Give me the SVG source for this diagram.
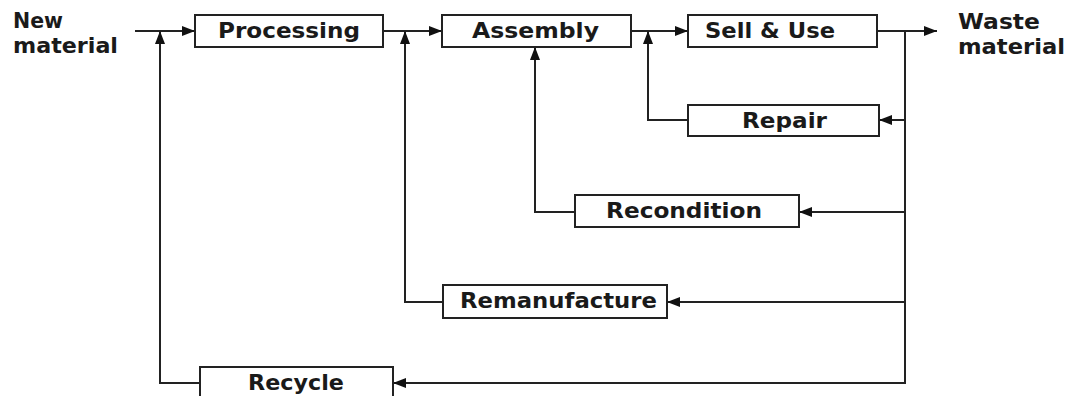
<svg xmlns="http://www.w3.org/2000/svg" width="1069" height="396" viewBox="0 0 1069 396">
  <style>
    .box { fill: #ffffff; stroke: #222222; stroke-width: 2; }
    .lbl { font-family: "DejaVu Sans", "Liberation Sans", sans-serif; font-weight: bold; font-size: 20.5px; fill: #1a1a1a; }
    .wire { fill: none; stroke: #222222; stroke-width: 2; }
  </style>
  <defs>
    <marker id="arrow" viewBox="0 0 13 10" refX="13" refY="5" markerWidth="13" markerHeight="10" markerUnits="userSpaceOnUse" orient="auto">
      <path d="M0,0 L13,5 L0,10 Z" fill="#111111"/>
    </marker>
  </defs>

  <rect width="1069" height="396" fill="#ffffff"/>

  <!-- side labels -->
  <g id="new-material">
    <text class="lbl" x="13" y="28" textLength="50" lengthAdjust="spacingAndGlyphs">New</text>
    <text class="lbl" x="13" y="53" textLength="105" lengthAdjust="spacingAndGlyphs">material</text>
  </g>
  <g id="waste-material">
    <text class="lbl" x="958" y="29" textLength="82" lengthAdjust="spacingAndGlyphs">Waste</text>
    <text class="lbl" x="958" y="54" textLength="107" lengthAdjust="spacingAndGlyphs">material</text>
  </g>

  <!-- connectors -->
  <g id="connectors">
    <line class="wire" x1="135" y1="31" x2="195" y2="31" marker-end="url(#arrow)"/>
    <line class="wire" x1="383" y1="31" x2="442" y2="31" marker-end="url(#arrow)"/>
    <line class="wire" x1="631" y1="31" x2="688" y2="31" marker-end="url(#arrow)"/>
    <line class="wire" x1="877" y1="31" x2="937" y2="31" marker-end="url(#arrow)"/>
    <!-- waste trunk -->
    <line class="wire" x1="905" y1="31" x2="905" y2="384"/>
    <line class="wire" x1="905" y1="120" x2="879" y2="120" marker-end="url(#arrow)"/>
    <line class="wire" x1="905" y1="212" x2="799" y2="212" marker-end="url(#arrow)"/>
    <line class="wire" x1="905" y1="302" x2="667" y2="302" marker-end="url(#arrow)"/>
    <line class="wire" x1="906" y1="383" x2="393" y2="383" marker-end="url(#arrow)"/>
    <!-- return loops -->
    <polyline class="wire" points="688,120 648,120 648,31" marker-end="url(#arrow)"/>
    <polyline class="wire" points="575,212 535,212 535,47" marker-end="url(#arrow)"/>
    <polyline class="wire" points="443,302 405,302 405,31" marker-end="url(#arrow)"/>
    <polyline class="wire" points="200,383 160,383 160,31" marker-end="url(#arrow)"/>
  </g>

  <!-- process boxes -->
  <g id="processing">
    <rect class="box" x="195" y="15" width="188" height="32"/>
    <text class="lbl" x="218" y="38" textLength="142" lengthAdjust="spacingAndGlyphs">Processing</text>
  </g>
  <g id="assembly">
    <rect class="box" x="442" y="15" width="189" height="32"/>
    <text class="lbl" x="472" y="38" textLength="127" lengthAdjust="spacingAndGlyphs">Assembly</text>
  </g>
  <g id="sell-use">
    <rect class="box" x="688" y="15" width="189" height="32"/>
    <text class="lbl" x="705" y="38" textLength="130" lengthAdjust="spacingAndGlyphs">Sell &amp; Use</text>
  </g>
  <g id="repair">
    <rect class="box" x="688" y="105" width="191" height="31"/>
    <text class="lbl" x="742" y="128" textLength="85" lengthAdjust="spacingAndGlyphs">Repair</text>
  </g>
  <g id="recondition">
    <rect class="box" x="575" y="195" width="224" height="32"/>
    <text class="lbl" x="606" y="218" textLength="156" lengthAdjust="spacingAndGlyphs">Recondition</text>
  </g>
  <g id="remanufacture">
    <rect class="box" x="443" y="285" width="224" height="33"/>
    <text class="lbl" x="460" y="308" textLength="197" lengthAdjust="spacingAndGlyphs">Remanufacture</text>
  </g>
  <g id="recycle">
    <rect class="box" x="200" y="367" width="193" height="34"/>
    <text class="lbl" x="248" y="390" textLength="96" lengthAdjust="spacingAndGlyphs">Recycle</text>
  </g>
</svg>
